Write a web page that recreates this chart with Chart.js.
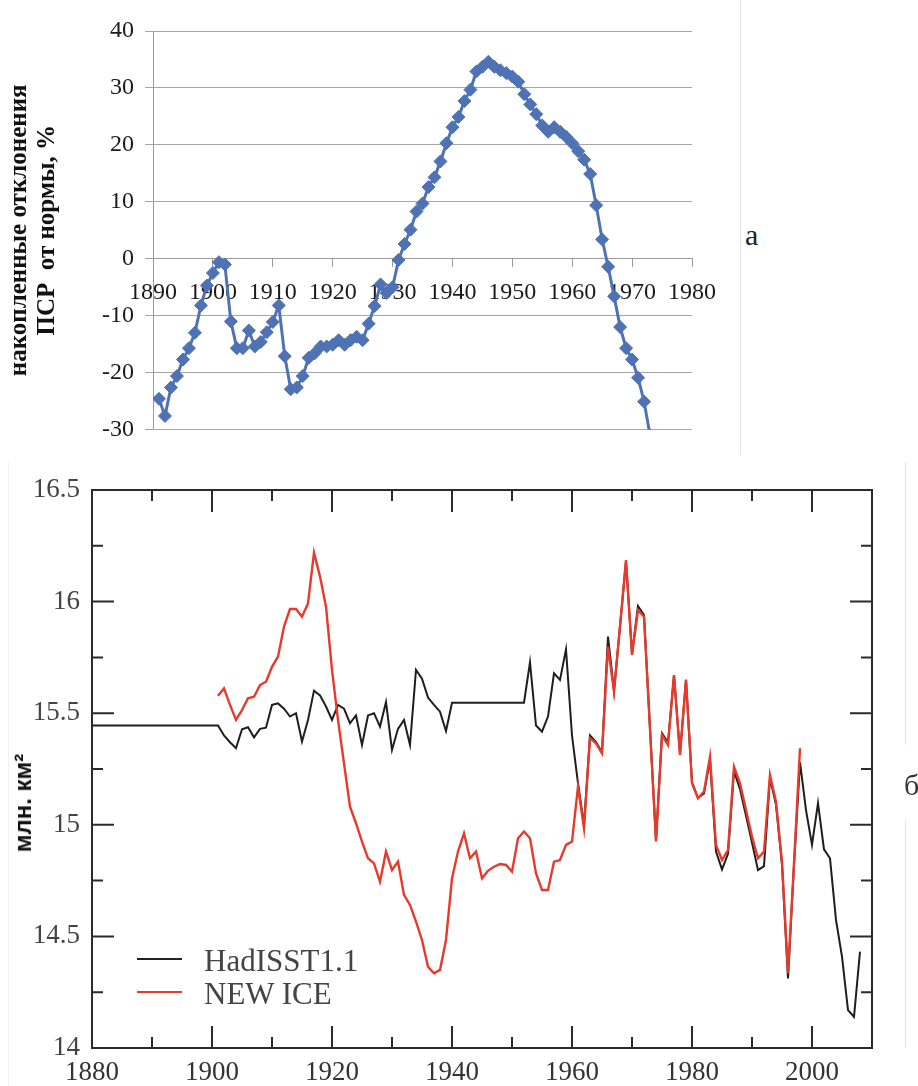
<!DOCTYPE html>
<html>
<head>
<meta charset="utf-8">
<script src="https://cdn.jsdelivr.net/npm/chart.js@4.4.1/dist/chart.umd.min.js"></script>
<style>
  body { margin: 0; background: #fff; }
  #page { position: relative; width: 918px; height: 1086px; overflow: hidden; background: #fff; }
  canvas { position: absolute; left: 0; }
  .txt { position: absolute; white-space: nowrap; line-height: 1; }
  .rule { position: absolute; background: #e4e4e4; }
  .key { position: absolute; height: 0; }
</style>
</head>
<body>
<div id="page">
  <canvas id="cumChart" width="740" height="455" style="top:0"></canvas>
  <canvas id="iceChart" width="918" height="631" style="top:455px"></canvas>

  <div class="rule" style="left:740px; top:0; width:1px; height:455px"></div>
  <div class="rule" style="left:905px; top:462px; width:1px; height:283px"></div>
  <div class="rule" style="left:905px; top:820px; width:1px; height:228px"></div>
  <div class="rule" style="left:8px; top:463px; width:1px; height:623px; background:#f0f0f0"></div>

  <div class="txt" style="left:745px; top:218px; font:30px 'Liberation Serif', serif; color:#222">а</div>
  <div class="txt" style="left:904px; top:768px; font:30px 'Liberation Serif', serif; color:#333">б</div>

  <div class="txt" style="left:23px; top:803px; transform:translate(-50%,-50%) rotate(-90deg); font:bold 24px 'Liberation Sans', sans-serif; color:#111">млн. км²</div>

  <div class="key" style="left:137px; top:958px; width:45px; border-top:2.5px solid #222"></div>
  <div class="key" style="left:137px; top:991px; width:45px; border-top:2.5px solid #e8392d"></div>
  <div class="txt" style="left:204px; top:943px; font:31px 'Liberation Serif', serif; color:#444">HadISST1.1</div>
  <div class="txt" style="left:204px; top:976px; font:31px 'Liberation Serif', serif; color:#444">NEW ICE</div>
</div>
<script>
// а) накопленные отклонения, %
const cumYears = [
  1891, 1892, 1893, 1894, 1895, 1896, 1897, 1898, 1899,
  1900, 1901, 1902, 1903, 1904, 1905, 1906, 1907, 1908, 1909,
  1910, 1911, 1912, 1913, 1914, 1915, 1916, 1917, 1918, 1919,
  1920, 1921, 1922, 1923, 1924, 1925, 1926, 1927, 1928, 1929,
  1930, 1931, 1932, 1933, 1934, 1935, 1936, 1937, 1938, 1939,
  1940, 1941, 1942, 1943, 1944, 1945, 1946, 1947, 1948, 1949,
  1950, 1951, 1952, 1953, 1954, 1955, 1956, 1957, 1958, 1959,
  1960, 1961, 1962, 1963, 1964, 1965, 1966, 1967, 1968, 1969,
  1970, 1971, 1972, 1973
];
const cumValues = [
  -24.6, -27.6, -22.6, -20.6, -17.7, -15.7, -13.0, -8.2, -4.7,
  -2.5, -0.6, -1.0, -11.0, -15.7, -15.7, -12.6, -15.4, -14.6, -12.9,
  -11.1, -8.2, -17.1, -22.9, -22.6, -20.6, -17.4, -16.6, -15.4, -15.4,
  -15.1, -14.3, -15.1, -14.3, -13.7, -14.3, -11.4, -8.3, -4.5, -6.0,
  -5.0, -0.2, 2.6, 5.1, 8.3, 9.7, 12.6, 14.3, 17.1, 20.3,
  23.1, 24.9, 27.7, 29.7, 32.9, 33.7, 34.6, 33.7, 33.1, 32.6,
  32.0, 31.1, 28.9, 27.1, 25.4, 23.4, 22.3, 23.1, 22.3, 21.4,
  20.3, 18.9, 17.4, 14.9, 9.4, 3.4, -1.4, -6.6, -12.0, -15.7,
  -17.7, -20.9, -25.1, -31.0
];

// б) площадь льда, млн. км2
const hadYears = [
  1880, 1881, 1882, 1883, 1884, 1885, 1886, 1887, 1888, 1889,
  1890, 1891, 1892, 1893, 1894, 1895, 1896, 1897, 1898, 1899,
  1900, 1901, 1902, 1903, 1904, 1905, 1906, 1907, 1908, 1909,
  1910, 1911, 1912, 1913, 1914, 1915, 1916, 1917, 1918, 1919,
  1920, 1921, 1922, 1923, 1924, 1925, 1926, 1927, 1928, 1929,
  1930, 1931, 1932, 1933, 1934, 1935, 1936, 1937, 1938, 1939,
  1940, 1941, 1942, 1943, 1944, 1945, 1946, 1947, 1948, 1949,
  1950, 1951, 1952, 1953, 1954, 1955, 1956, 1957, 1958, 1959,
  1960, 1961, 1962, 1963, 1964, 1965, 1966, 1967, 1968, 1969,
  1970, 1971, 1972, 1973, 1974, 1975, 1976, 1977, 1978, 1979,
  1980, 1981, 1982, 1983, 1984, 1985, 1986, 1987, 1988, 1989,
  1990, 1991, 1992, 1993, 1994, 1995, 1996, 1997, 1998, 1999,
  2000, 2001, 2002, 2003, 2004, 2005, 2006, 2007, 2008
];
const hadValues = [
  15.445, 15.445, 15.445, 15.445, 15.445, 15.445, 15.445, 15.445, 15.445, 15.445,
  15.445, 15.445, 15.445, 15.445, 15.445, 15.445, 15.445, 15.445, 15.445, 15.445,
  15.445, 15.445, 15.40, 15.37, 15.343, 15.428, 15.437, 15.392, 15.43, 15.435,
  15.537, 15.544, 15.52, 15.485, 15.50, 15.373, 15.47, 15.601, 15.58, 15.53,
  15.47, 15.537, 15.52, 15.455, 15.49, 15.358, 15.49, 15.50, 15.44, 15.55,
  15.335, 15.43, 15.47, 15.358, 15.694, 15.655, 15.57, 15.537, 15.507, 15.42,
  15.547, 15.547, 15.547, 15.547, 15.547, 15.547, 15.547, 15.547, 15.547, 15.547,
  15.547, 15.547, 15.547, 15.728, 15.445, 15.417, 15.485, 15.679, 15.649, 15.786,
  15.40, 15.186, 15.00, 15.40, 15.37, 15.325, 15.843, 15.60, 15.89, 16.18,
  15.765, 15.98, 15.94, 15.43, 14.93, 15.41, 15.37, 15.67, 15.32, 15.65,
  15.19, 15.12, 15.14, 15.29, 14.88, 14.80, 14.87, 15.24, 15.16, 15.04,
  14.92, 14.797, 14.815, 15.21, 15.09, 14.82, 14.312, 14.82, 15.28, 15.066,
  14.91, 15.097, 14.89, 14.85, 14.574, 14.409, 14.17, 14.14, 14.432
];
const iceYears = [
  1901, 1902, 1903, 1904, 1905, 1906, 1907, 1908, 1909,
  1910, 1911, 1912, 1913, 1914, 1915, 1916, 1917, 1918, 1919,
  1920, 1921, 1922, 1923, 1924, 1925, 1926, 1927, 1928, 1929,
  1930, 1931, 1932, 1933, 1934, 1935, 1936, 1937, 1938, 1939,
  1940, 1941, 1942, 1943, 1944, 1945, 1946, 1947, 1948, 1949,
  1950, 1951, 1952, 1953, 1954, 1955, 1956, 1957, 1958, 1959,
  1960, 1961, 1962, 1963, 1964, 1965, 1966, 1967, 1968, 1969,
  1970, 1971, 1972, 1973, 1974, 1975, 1976, 1977, 1978, 1979,
  1980, 1981, 1982, 1983, 1984, 1985, 1986, 1987, 1988, 1989,
  1990, 1991, 1992, 1993, 1994, 1995, 1996, 1997, 1998
];
const iceValues = [
  15.578, 15.611, 15.537, 15.47, 15.514, 15.567, 15.574, 15.626, 15.641,
  15.708, 15.753, 15.888, 15.967, 15.967, 15.932, 15.992, 16.219, 16.112, 15.977,
  15.694, 15.47, 15.275, 15.081, 15.007, 14.925, 14.85, 14.827, 14.745, 14.88,
  14.797, 14.835, 14.686, 14.641, 14.566, 14.484, 14.364, 14.335, 14.35, 14.484,
  14.76, 14.88, 14.962, 14.85, 14.88, 14.76, 14.794, 14.812, 14.824, 14.82,
  14.79, 14.94, 14.97, 14.94, 14.782, 14.708, 14.708, 14.835, 14.842, 14.91,
  14.925, 15.171, 14.984, 15.388, 15.365, 15.32, 15.798, 15.597, 15.888, 16.186,
  15.761, 15.962, 15.932, 15.43, 14.925, 15.402, 15.358, 15.671, 15.313, 15.649,
  15.186, 15.119, 15.149, 15.305, 14.91, 14.842, 14.887, 15.26, 15.186, 15.066,
  14.947, 14.85, 14.88, 15.223, 15.104, 14.835, 14.335, 14.827, 15.343
];

const SERIF = "'Liberation Serif', 'Times New Roman', serif";
const blue = '#4e72b4';

const toPoints = (xs, ys) => xs.map((x, i) => ({ x: x, y: ys[i] }));

new Chart(document.getElementById('cumChart'), {
  type: 'line',
  data: {
    datasets: [{
      data: toPoints(cumYears, cumValues),
      borderColor: blue,
      backgroundColor: blue,
      borderWidth: 3,
      pointStyle: 'rectRot',
      pointRadius: 6.5,
      pointBorderWidth: 1,
      tension: 0
    }]
  },
  options: {
    responsive: false,
    animation: false,
    devicePixelRatio: 1,
    layout: { padding: { top: 31, right: 48, bottom: 16, left: 0 } },
    plugins: { legend: { display: false }, tooltip: { enabled: false } },
    scales: {
      x: {
        type: 'linear',
        position: { y: 0 },
        min: 1890,
        max: 1980,
        ticks: {
          stepSize: 10, autoSkip: false, maxRotation: 0, padding: 12,
          color: '#1a1a1a', font: { family: SERIF, size: 24 },
          callback: v => String(v)
        },
        grid: { drawOnChartArea: false, tickLength: 8, color: '#9a9a9a' },
        border: { color: '#9a9a9a' }
      },
      y: {
        min: -30,
        max: 40,
        afterFit: s => { s.width = 153; },
        ticks: {
          stepSize: 10, padding: 11,
          color: '#1a1a1a', font: { family: SERIF, size: 24 }
        },
        grid: { color: '#a6a6a6', tickLength: 8 },
        border: { color: '#9a9a9a' },
        title: {
          display: true,
          text: ['накопленные отклонения', 'ПСР  от нормы, %'],
          color: '#111',
          font: { family: SERIF, size: 25, weight: 'bold', lineHeight: 1.1 },
          padding: { top: 6, bottom: 0 }
        }
      }
    }
  }
});

// frame with inward ticks, like the original plot
const frameTicks = {
  id: 'frameTicks',
  afterDraw(chart) {
    const { ctx, chartArea: a, scales: { x, y } } = chart;
    ctx.save();
    ctx.strokeStyle = '#2b2b2b';
    ctx.lineWidth = 2;
    ctx.beginPath();
    x.ticks.forEach(t => {
      const px = x.getPixelForValue(t.value);
      const len = t.value % 20 === 0 ? 22 : 11;
      ctx.moveTo(px, a.bottom); ctx.lineTo(px, a.bottom - len);
      ctx.moveTo(px, a.top); ctx.lineTo(px, a.top + len);
    });
    y.ticks.forEach(t => {
      const py = y.getPixelForValue(t.value);
      const len = Math.abs(t.value * 2 - Math.round(t.value * 2)) < 1e-6 ? 22 : 11;
      ctx.moveTo(a.left, py); ctx.lineTo(a.left + len, py);
      ctx.moveTo(a.right, py); ctx.lineTo(a.right - len, py);
    });
    ctx.stroke();
    ctx.strokeRect(a.left, a.top, a.right - a.left, a.bottom - a.top);
    ctx.restore();
  }
};

new Chart(document.getElementById('iceChart'), {
  type: 'line',
  data: {
    datasets: [
      {
        label: 'NEW ICE',
        data: toPoints(iceYears, iceValues),
        borderColor: '#e8392d',
        borderWidth: 2.4,
        pointRadius: 0,
        tension: 0,
        order: 0
      },
      {
        label: 'HadISST1.1',
        data: toPoints(hadYears, hadValues),
        borderColor: '#1e1e1e',
        borderWidth: 2,
        pointRadius: 0,
        tension: 0,
        order: 1
      }
    ]
  },
  options: {
    responsive: false,
    animation: false,
    devicePixelRatio: 1,
    layout: { padding: { top: 35, right: 46, bottom: 0, left: 0 } },
    plugins: { legend: { display: false }, tooltip: { enabled: false } },
    scales: {
      x: {
        type: 'linear',
        min: 1880,
        max: 2010,
        afterFit: s => { s.height = 38; },
        ticks: {
          stepSize: 10, autoSkip: false, maxRotation: 0, padding: 9,
          color: '#333', font: { family: SERIF, size: 27 },
          callback: v => (v % 20 === 0 ? String(v) : '')
        },
        grid: { display: false, drawTicks: false },
        border: { display: false }
      },
      y: {
        min: 14,
        max: 16.5,
        afterFit: s => { s.width = 92; },
        ticks: {
          stepSize: 0.25, autoSkip: false, padding: 12,
          color: '#444', font: { family: SERIF, size: 27 },
          callback: v => (Math.abs(v * 2 - Math.round(v * 2)) < 1e-6 ? String(v) : '')
        },
        grid: { display: false, drawTicks: false },
        border: { display: false }
      }
    }
  },
  plugins: [frameTicks]
});
</script>
</body>
</html>
